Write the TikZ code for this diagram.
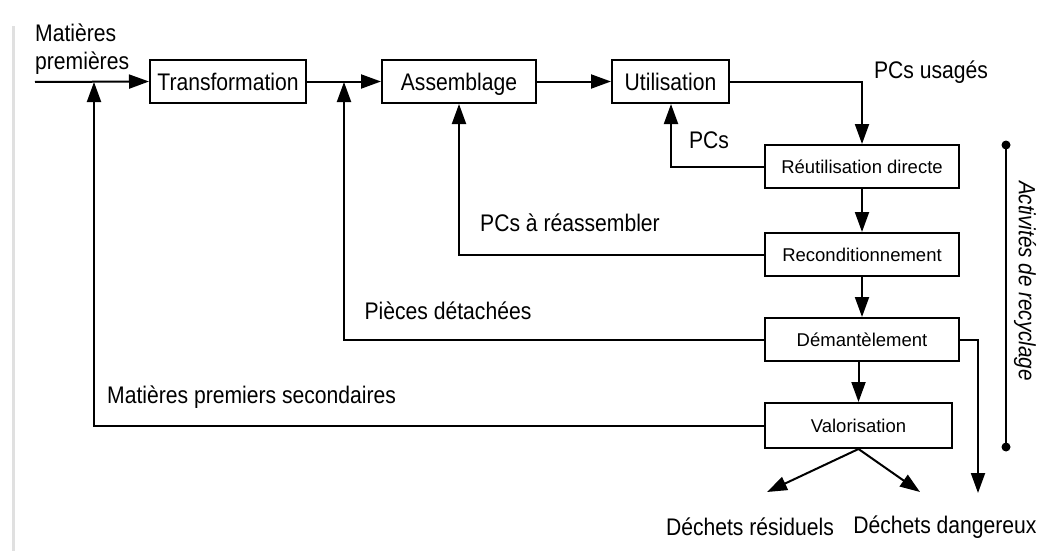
\documentclass[tikz,border=0pt]{standalone}
\usepackage{fontspec}
\setmainfont{Liberation Sans}
\newfontfamily\tallfont[FakeStretch=0.88]{Liberation Sans}
\usetikzlibrary{arrows.meta,calc}
\begin{document}
\begin{tikzpicture}[x=1pt,y=-1pt,
  box/.style={draw,line width=2pt,minimum height=43pt,inner sep=0pt,text height=17pt,text depth=0pt,font=\tallfont\fontsize{24}{26}\selectfont},
  sbox/.style={draw,line width=2pt,minimum height=43pt,inner sep=0pt,text height=13.2pt,text depth=0pt,font=\fontsize{18.5}{22}\selectfont},
  lbl/.style={inner sep=0pt,font=\tallfont\fontsize{24}{28}\selectfont},
  flow/.style={line width=2pt,-{Triangle[length=20pt,width=14pt]}},
  plain/.style={line width=2pt}
]
\useasboundingbox (0,0) rectangle (1049,551);
\draw[line width=3pt,black!12] (13,26) -- (13,551);

\node[box,minimum width=156pt] (trans) at (228,81.5) {Transformation};
\node[box,minimum width=154pt] (assem) at (459,81.5) {Assemblage};
\node[box,minimum width=117pt] (util) at (670.5,81.5) {Utilisation};
\node[sbox,minimum width=194pt] (reut) at (862,166.5) {Réutilisation directe};
\node[sbox,minimum width=194pt] (recond) at (862,254.5) {Reconditionnement};
\node[sbox,minimum width=194pt] (deman) at (862,339.5) {Démantèlement};
\node[sbox,minimum width=187pt,minimum height=45pt] (valor) at (858.5,425.5) {Valorisation};

\coordinate (in) at (35,82);
\coordinate (j1) at (94,82);
\coordinate (j2) at (344,82);
\coordinate (dr) at (978,493);
\coordinate (wr) at (767,492);
\coordinate (wd) at (920,492);
\coordinate (brt) at (1006,145);
\coordinate (brb) at (1006,447);

\draw[flow] (in) -- (trans.west);
\draw[flow] (trans.east) -- (assem.west);
\draw[flow] (assem.east) -- (util.west);
\draw[flow] (util.east) -- (util.east -| reut.north) -- (reut.north);
\draw[flow] (reut.west) -- (reut.west -| 671,0) -- (util.south -| 671,0);
\draw[flow] (reut.south) -- (recond.north);
\draw[flow] (recond.west) -- (recond.west -| assem.south) -- (assem.south);
\draw[flow] (recond.south) -- (deman.north);
\draw[flow] (deman.west) -- (deman.west -| j2) -- (j2);
\draw[flow] (deman.south -| valor.north) -- (valor.north);
\draw[flow] (valor.west) -- (valor.west -| j1) -- (j1);
\draw[flow] (deman.east) -- (deman.east -| dr) -- (dr);
\draw[flow] (valor.south) -- (wr);
\draw[flow] (valor.south) -- (wd);

\draw[plain] (brt) -- (brb);
\fill (brt) circle (4.5pt);
\fill (brb) circle (4.5pt);
\node[lbl,rotate=-90,font=\tallfont\fontsize{23.5}{26}\selectfont\itshape] (act) at (1025,281) {Activités de recyclage};

\node[lbl,anchor=west,align=left] (mp) at (35,49) {Matières\\premières};
\node[lbl] (pcu) at (931,72) {PCs usagés};
\node[lbl] (pcs) at (709,140) {PCs};
\node[lbl] (pcr) at (570,223) {PCs à réassembler};
\node[lbl] (pd) at (448,311) {Pièces détachées};
\node[lbl,anchor=west] (mps) at (107,397) {Matières premiers secondaires};
\node[lbl] (dres) at (750,527) {Déchets résiduels};
\node[lbl] (ddan) at (945,527) {Déchets dangereux};
\end{tikzpicture}
\end{document}
